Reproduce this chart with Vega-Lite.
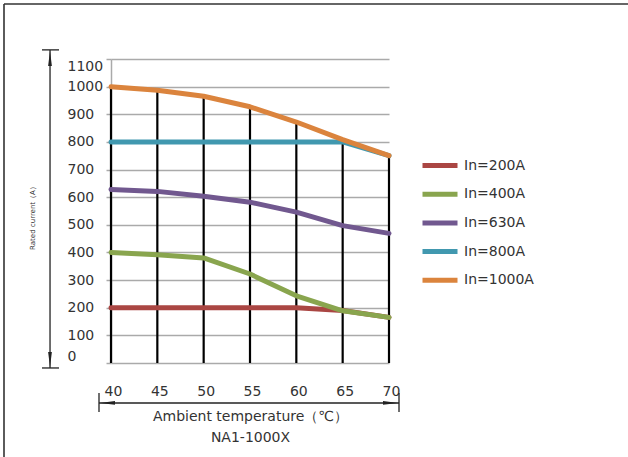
{
  "$schema": "https://vega.github.io/schema/vega-lite/v6.json",
  "autosize": {"type": "none"},
  "width": 278,
  "height": 304,
  "padding": {"left": 111, "top": 59, "right": 239, "bottom": 94},
  "background": "white",
  "config": {"font": "DejaVu Sans", "view": {"stroke": null}, "axisY": {"tickCount": 12, "labelOverlap": false}, "axisX": {"labelFlush": false}},
  "data": {"values": [
    {"series": "In=200A", "T": 40, "I": 200},
    {"series": "In=200A", "T": 45, "I": 200},
    {"series": "In=200A", "T": 50, "I": 200},
    {"series": "In=200A", "T": 55, "I": 200},
    {"series": "In=200A", "T": 60, "I": 200},
    {"series": "In=200A", "T": 65, "I": 190},
    {"series": "In=200A", "T": 70, "I": 165},
    {"series": "In=400A", "T": 40, "I": 400},
    {"series": "In=400A", "T": 45, "I": 392},
    {"series": "In=400A", "T": 50, "I": 380},
    {"series": "In=400A", "T": 55, "I": 322},
    {"series": "In=400A", "T": 60, "I": 243},
    {"series": "In=400A", "T": 65, "I": 189},
    {"series": "In=400A", "T": 70, "I": 165},
    {"series": "In=630A", "T": 40, "I": 628},
    {"series": "In=630A", "T": 45, "I": 621},
    {"series": "In=630A", "T": 50, "I": 603},
    {"series": "In=630A", "T": 55, "I": 582},
    {"series": "In=630A", "T": 60, "I": 546},
    {"series": "In=630A", "T": 65, "I": 497},
    {"series": "In=630A", "T": 70, "I": 469},
    {"series": "In=800A", "T": 40, "I": 800},
    {"series": "In=800A", "T": 45, "I": 800},
    {"series": "In=800A", "T": 50, "I": 800},
    {"series": "In=800A", "T": 55, "I": 800},
    {"series": "In=800A", "T": 60, "I": 800},
    {"series": "In=800A", "T": 65, "I": 800},
    {"series": "In=800A", "T": 70, "I": 750},
    {"series": "In=1000A", "T": 40, "I": 1000},
    {"series": "In=1000A", "T": 45, "I": 987},
    {"series": "In=1000A", "T": 50, "I": 965},
    {"series": "In=1000A", "T": 55, "I": 927},
    {"series": "In=1000A", "T": 60, "I": 872},
    {"series": "In=1000A", "T": 65, "I": 808},
    {"series": "In=1000A", "T": 70, "I": 750}
  ]},
  "layer": [
    {
      "transform": [{"filter": "datum.series === 'In=1000A'"}],
      "mark": {"type": "rule", "color": "black", "strokeWidth": 2.2},
      "encoding": {
        "x": {"field": "T", "type": "quantitative", "scale": {"domain": [40, 70], "nice": false, "zero": false},
          "axis": {"values": [40, 45, 50, 55, 60, 65, 70], "tickCount": 8, "ticks": false, "domain": false, "grid": false,
            "labelFlush": false, "format": "d", "labelOffset": 2,
            "labelPadding": 21, "labelFontSize": 14, "labelColor": "#333",
            "title": ["Ambient temperature（℃）", "NA1-1000X"], "titleFontSize": 14, "titleFontWeight": "normal",
            "titleColor": "#333", "titleLineHeight": 21.5, "titleX": 139, "titleY": 46, "titleBaseline": "top", "titleAlign": "center"}},
        "y": {"field": "I", "type": "quantitative", "scale": {"domain": [0, 1100], "nice": false},
          "axis": {"values": [0, 100, 200, 300, 400, 500, 600, 700, 800, 900, 1000, 1100], "tickCount": 12, "format": "d", "grid": true,
            "gridColor": "#aaa", "gridWidth": 1.5, "domainColor": "#aaa", "domainWidth": 1.5,
            "tickColor": "#aaa", "tickSize": 5, "tickWidth": 1.5, "labelFontSize": 14, "labelColor": "#333",
            "labelAlign": "left", "labelPadding": 39, "labelFlush": true, "title": "Rated current（A）", "titleFontSize": 7,
            "titleFontWeight": "normal", "titleColor": "#333", "titleAngle": -90, "titleX": -79, "titleY": 157,
            "titleAlign": "center", "titleBaseline": "middle"}},
        "y2": {"datum": 0}
      }
    },
    {
      "mark": {"type": "line", "strokeWidth": 5, "strokeCap": "round", "strokeJoin": "round"},
      "encoding": {
        "x": {"field": "T", "type": "quantitative", "scale": {"domain": [40, 70], "nice": false, "zero": false}},
        "y": {"field": "I", "type": "quantitative", "scale": {"domain": [0, 1100], "nice": false}},
        "color": {"field": "series", "type": "nominal",
          "scale": {"domain": ["In=200A", "In=400A", "In=630A", "In=800A", "In=1000A"],
            "range": ["#AA4643", "#89A54E", "#71588F", "#4198AF", "#DB843D"]},
          "legend": {"orient": "none", "legendX": 312.5, "legendY": 90, "title": null, "symbolType": "M-1.25,0L1.25,0",
            "symbolSize": 784, "symbolStrokeWidth": 5, "labelFontSize": 14, "labelColor": "#333",
            "rowPadding": 1.7, "labelOffset": 7.5, "padding": 0}}
      }
    },
    {
      "data": {"values": [{}]},
      "mark": {"type": "rule", "color": "#222", "strokeWidth": 1.3},
      "encoding": {
        "x": {"datum": 33.42, "scale": {"domain": [40, 70], "nice": false, "zero": false}},
        "y": {"datum": -18, "scale": {"domain": [0, 1100], "nice": false}},
        "y2": {"datum": 1133}
      }
    },
    {
      "data": {"values": [{}]},
      "mark": {"type": "rule", "color": "#222", "strokeWidth": 1.3},
      "encoding": {
        "x": {"datum": 32.55, "scale": {"domain": [40, 70], "nice": false, "zero": false}},
        "x2": {"datum": 34.39},
        "y": {"datum": 1133, "scale": {"domain": [0, 1100], "nice": false}}
      }
    },
    {
      "data": {"values": [{}]},
      "mark": {"type": "rule", "color": "#222", "strokeWidth": 1.3},
      "encoding": {
        "x": {"datum": 32.55, "scale": {"domain": [40, 70], "nice": false, "zero": false}},
        "x2": {"datum": 34.39},
        "y": {"datum": -18, "scale": {"domain": [0, 1100], "nice": false}}
      }
    },
    {
      "data": {"values": [{}]},
      "mark": {"type": "point", "filled": true, "opacity": 1, "color": "#222", "size": 225, "shape": "M0,-1L0.25,1L-0.25,1Z"},
      "encoding": {
        "x": {"datum": 33.42, "scale": {"domain": [40, 70], "nice": false, "zero": false}},
        "y": {"datum": 1102, "scale": {"domain": [0, 1100], "nice": false}}
      }
    },
    {
      "data": {"values": [{}]},
      "mark": {"type": "point", "filled": true, "opacity": 1, "color": "#222", "size": 225, "shape": "M0,1L0.25,-1L-0.25,-1Z"},
      "encoding": {
        "x": {"datum": 33.42, "scale": {"domain": [40, 70], "nice": false, "zero": false}},
        "y": {"datum": 13, "scale": {"domain": [0, 1100], "nice": false}}
      }
    },
    {
      "data": {"values": [{}]},
      "mark": {"type": "rule", "color": "#222", "strokeWidth": 1.3},
      "encoding": {
        "x": {"datum": 38.705, "scale": {"domain": [40, 70], "nice": false, "zero": false}},
        "x2": {"datum": 71.08},
        "y": {"datum": -144.7, "scale": {"domain": [0, 1100], "nice": false}}
      }
    },
    {
      "data": {"values": [{}]},
      "mark": {"type": "rule", "color": "#222", "strokeWidth": 1.3},
      "encoding": {
        "x": {"datum": 38.705, "scale": {"domain": [40, 70], "nice": false, "zero": false}},
        "y": {"datum": -108.6, "scale": {"domain": [0, 1100], "nice": false}},
        "y2": {"datum": -177.3}
      }
    },
    {
      "data": {"values": [{}]},
      "mark": {"type": "rule", "color": "#222", "strokeWidth": 1.3},
      "encoding": {
        "x": {"datum": 71.08, "scale": {"domain": [40, 70], "nice": false, "zero": false}},
        "y": {"datum": -108.6, "scale": {"domain": [0, 1100], "nice": false}},
        "y2": {"datum": -177.3}
      }
    },
    {
      "data": {"values": [{}]},
      "mark": {"type": "point", "filled": true, "opacity": 1, "color": "#222", "size": 225, "shape": "M-1,0L1,-0.25L1,0.25Z"},
      "encoding": {
        "x": {"datum": 39.62, "scale": {"domain": [40, 70], "nice": false, "zero": false}},
        "y": {"datum": -144.7, "scale": {"domain": [0, 1100], "nice": false}}
      }
    },
    {
      "data": {"values": [{}]},
      "mark": {"type": "point", "filled": true, "opacity": 1, "color": "#222", "size": 225, "shape": "M1,0L-1,-0.25L-1,0.25Z"},
      "encoding": {
        "x": {"datum": 70.16, "scale": {"domain": [40, 70], "nice": false, "zero": false}},
        "y": {"datum": -144.7, "scale": {"domain": [0, 1100], "nice": false}}
      }
    },
    {
      "data": {"values": [{}]},
      "mark": {"type": "rule", "color": "#333", "strokeWidth": 1.6},
      "encoding": {
        "x": {"datum": 28.453, "scale": {"domain": [40, 70], "nice": false, "zero": false}},
        "x2": {"datum": 95.79},
        "y": {"datum": 1299, "scale": {"domain": [0, 1100], "nice": false}}
      }
    },
    {
      "data": {"values": [{}]},
      "mark": {"type": "rule", "color": "#333", "strokeWidth": 1.6},
      "encoding": {
        "x": {"datum": 28.453, "scale": {"domain": [40, 70], "nice": false, "zero": false}},
        "y": {"datum": 1299, "scale": {"domain": [0, 1100], "nice": false}},
        "y2": {"datum": -340}
      }
    }
  ]
}
